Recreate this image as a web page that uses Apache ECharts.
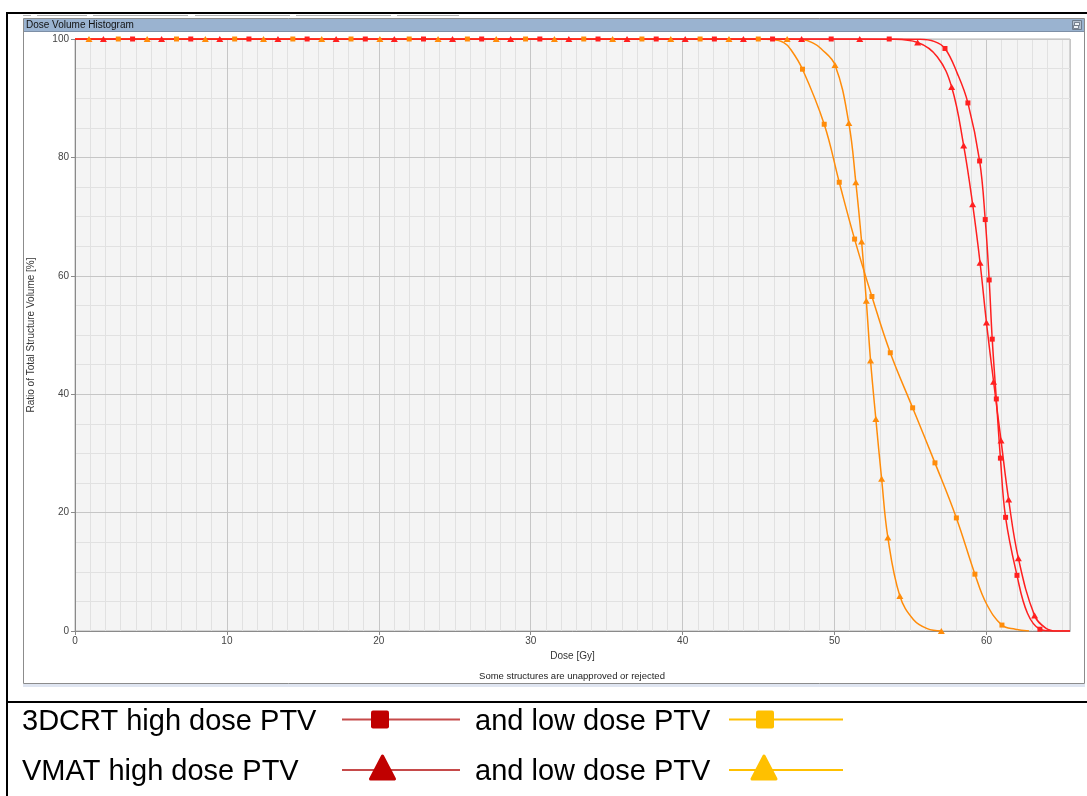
<!DOCTYPE html>
<html>
<head>
<meta charset="utf-8">
<title>Dose Volume Histogram</title>
<script src="https://cdn.jsdelivr.net/npm/echarts@6/dist/echarts.min.js"></script>
<style>
  html, body { margin: 0; padding: 0; background: #ffffff; }
  #chart { width: 1087px; height: 796px; }
</style>
</head>
<body>
<div id="chart"></div>
<script>
// ---- axis ticks ----
const doseTicks = [0, 10, 20, 30, 40, 50, 60];
const volumeTicks = [0, 20, 40, 60, 80, 100];
const doseMax = 65.5;

// ---- DVH curves: [dose Gy, volume %] ----
// *Marks: sampled points drawn with a symbol; *Bends: extra points on the curve itself.
const crt3dHighMarks = [
  [3.79, 100], [7.62, 100], [11.45, 100], [15.28, 100], [19.11, 100], [22.94, 100],
  [26.77, 100], [30.60, 100], [34.43, 100], [38.26, 100], [42.09, 100], [45.92, 100],
  [49.78, 100], [53.60, 100], [57.27, 98.4], [58.78, 89.2], [59.55, 79.4], [59.92, 69.5],
  [60.18, 59.3], [60.38, 49.3], [60.65, 39.2], [60.92, 29.2], [61.26, 19.2], [62.01, 9.4],
  [63.52, 0.3]
];
const crt3dHighBends = [[0, 100], [55.6, 99.95], [56.55, 99.6], [58.08, 94.2], [62.7, 3.0], [64.3, 0], [65.5, 0]];

const crt3dLowMarks = [
  [2.85, 100], [6.68, 100], [10.51, 100], [14.34, 100], [18.17, 100], [22.00, 100],
  [25.83, 100], [29.66, 100], [33.49, 100], [37.32, 100], [41.15, 100], [44.98, 100],
  [47.89, 94.9], [49.32, 85.6], [50.31, 75.8], [51.32, 66.2], [52.46, 56.5], [53.67, 47.0],
  [55.14, 37.7], [56.61, 28.4], [58.02, 19.1], [59.24, 9.6], [61.02, 1.0]
];
const crt3dLowBends = [[0, 100], [45.9, 99.9], [46.66, 99.4], [47.1, 98.3], [60.0, 4.6], [61.9, 0.3], [62.8, 0]];

const vmatHighMarks = [
  [1.87, 100], [5.70, 100], [9.53, 100], [13.36, 100], [17.19, 100], [21.02, 100],
  [24.85, 100], [28.68, 100], [32.51, 100], [36.34, 100], [40.17, 100], [44.00, 100],
  [47.83, 100], [51.66, 100], [55.47, 99.4], [57.71, 91.9], [58.50, 82.0], [59.09, 72.1],
  [59.58, 62.2], [60.00, 52.1], [60.47, 42.1], [60.96, 32.2], [61.46, 22.2], [62.10, 12.3],
  [63.17, 2.6]
];
const vmatHighBends = [[0, 100], [53.8, 99.95], [56.76, 97.0], [63.9, 0.5], [64.6, 0], [65.5, 0]];

const vmatLowMarks = [
  [0.92, 100], [4.75, 100], [8.58, 100], [12.41, 100], [16.24, 100], [20.07, 100],
  [23.90, 100], [27.73, 100], [31.56, 100], [35.39, 100], [39.22, 100], [43.05, 100],
  [46.88, 100], [50.03, 95.6], [50.94, 85.8], [51.40, 75.8], [51.78, 65.8], [52.09, 55.8],
  [52.37, 45.7], [52.72, 35.8], [53.10, 25.7], [53.51, 15.8], [54.30, 5.9], [57.03, 0]
];
const vmatLowBends = [[0, 100], [47.9, 99.9], [48.6, 99.3], [49.1, 98.4], [55.2, 1.9], [56.1, 0.4]];

// ---- legend entries ----
const legendRows = [
  { plan: '3DCRT high dose PTV', other: 'and low dose PTV', shape: 'square' },
  { plan: 'VMAT high dose PTV', other: 'and low dose PTV', shape: 'triangle' }
];

const RED = '#ff1f1f';
const ORANGE = '#ff8c0a';
const LEG_RED_LINE = '#c64a4a';
const LEG_RED = '#c00000';
const LEG_GOLD = '#ffc000';
const FONT = '"Liberation Sans", Arial, sans-serif';

// merge marked and unmarked points into one curve, sorted by dose
function curve(marks, bends) {
  const pts = marks.map(p => ({ value: p }))
    .concat(bends.map(p => ({ value: p, symbol: 'none' })));
  pts.sort((a, b) => a.value[0] - b.value[0] || b.value[1] - a.value[1]);
  return pts;
}

function dvhSeries(name, marks, bends, color, symbol) {
  return {
    name: name,
    type: 'line',
    xAxisIndex: 0,
    yAxisIndex: 0,
    data: curve(marks, bends),
    smooth: 0.4,
    symbol: symbol,
    symbolSize: symbol === 'triangle' ? [7, 6] : [5, 5],
    showSymbol: true,
    clip: true,
    lineStyle: { color: color, width: 1.5 },
    itemStyle: { color: color, borderWidth: 0 },
    emphasis: { disabled: true },
    animation: false
  };
}

// ---- window chrome, captions and legend drawn as graphics ----
const graphics = [];
// tab strip remnants above the panel
[[23, 31], [37, 87], [93, 188], [195, 290], [296, 391], [397, 459]].forEach(s => {
  graphics.push({ type: 'line', shape: { x1: s[0], y1: 15.5, x2: s[1], y2: 15.5 },
    style: { stroke: '#b0b0b0', lineWidth: 1 }, silent: true });
});
// outer frame
graphics.push({ type: 'rect', shape: { x: 6, y: 12, width: 1081, height: 2 }, style: { fill: '#000' }, silent: true });
graphics.push({ type: 'rect', shape: { x: 6, y: 12, width: 2, height: 784 }, style: { fill: '#000' }, silent: true });
graphics.push({ type: 'rect', shape: { x: 6, y: 701, width: 1081, height: 2 }, style: { fill: '#000' }, silent: true });
// panel
graphics.push({ type: 'rect', shape: { x: 23, y: 684, width: 1062, height: 3 }, style: { fill: '#dfe5f1' }, silent: true });
graphics.push({ type: 'rect', shape: { x: 23.5, y: 18.5, width: 1061, height: 665 },
  style: { fill: null, stroke: '#8c8c8c', lineWidth: 1 }, silent: true });
graphics.push({ type: 'rect', shape: { x: 24, y: 19, width: 1060, height: 12 }, style: { fill: '#9ab3d0' }, silent: true });
graphics.push({ type: 'line', shape: { x1: 24, y1: 31.5, x2: 1084, y2: 31.5 }, style: { stroke: '#7d8fa6', lineWidth: 1 }, silent: true });
graphics.push({ type: 'text', x: 26, y: 25.5, silent: true,
  style: { text: 'Dose Volume Histogram', fontFamily: FONT, fontSize: 10, fill: '#111', verticalAlign: 'middle' } });
// restore button in the header
graphics.push({ type: 'rect', shape: { x: 1072.5, y: 20.5, width: 9, height: 9 },
  style: { fill: '#b3c0cf', stroke: '#6f7c8c', lineWidth: 1 }, silent: true });
graphics.push({ type: 'rect', shape: { x: 1074.5, y: 22.5, width: 5, height: 3 },
  style: { fill: '#eef2f6', stroke: '#5f6b7a', lineWidth: 0.8 }, silent: true });
graphics.push({ type: 'rect', shape: { x: 1073.5, y: 25.5, width: 5, height: 3 },
  style: { fill: '#eef2f6', stroke: '#5f6b7a', lineWidth: 0.8 }, silent: true });
// footnote under the plot
graphics.push({ type: 'text', x: 572, y: 676, silent: true,
  style: { text: 'Some structures are unapproved or rejected', fontFamily: FONT, fontSize: 9.5,
    fill: '#222', align: 'center', verticalAlign: 'middle' } });

// legend
function legendIcon(x1, x2, y, lineColor, markColor, shape, cx) {
  graphics.push({ type: 'line', shape: { x1: x1, y1: y, x2: x2, y2: y },
    style: { stroke: lineColor, lineWidth: 2 }, silent: true });
  if (shape === 'square') {
    graphics.push({ type: 'rect', shape: { x: cx - 9, y: y - 9, width: 18, height: 18, r: 2 },
      style: { fill: markColor }, silent: true });
  } else {
    graphics.push({ type: 'polygon', shape: { points: [[cx, y - 14], [cx + 12, y + 9], [cx - 12, y + 9]] },
      style: { fill: markColor, stroke: markColor, lineWidth: 3, lineJoin: 'round' }, silent: true });
  }
}
legendRows.forEach((row, i) => {
  const textMid = i === 0 ? 722 : 772;
  const mid = i === 0 ? 719.5 : 770;
  graphics.push({ type: 'text', x: 22, y: textMid, silent: true,
    style: { text: row.plan, fontFamily: FONT, fontSize: 29, fill: '#000', verticalAlign: 'middle' } });
  graphics.push({ type: 'text', x: 475, y: textMid, silent: true,
    style: { text: row.other, fontFamily: FONT, fontSize: 29, fill: '#000', verticalAlign: 'middle' } });
  legendIcon(342, 460, mid, LEG_RED_LINE, LEG_RED, row.shape, i === 0 ? 380 : 382.5);
  legendIcon(729, 843, mid, LEG_GOLD, LEG_GOLD, row.shape, i === 0 ? 765 : 764);
});

const chart = echarts.init(document.getElementById('chart'), null, { renderer: 'canvas' });

const axisText = { color: '#444', fontSize: 10, fontFamily: FONT };

chart.setOption({
  animation: false,
  backgroundColor: '#ffffff',
  grid: {
    left: 75, right: 17, top: 39, bottom: 165,
    show: true, backgroundColor: '#f4f4f4', borderColor: '#b4b4b4', borderWidth: 1
  },
  xAxis: [
    {
      type: 'value', min: 0, max: doseMax, interval: 10,
      name: 'Dose [Gy]', nameLocation: 'middle', nameGap: 11,
      nameTextStyle: { color: '#333', fontSize: 10, fontFamily: FONT },
      axisLine: { show: true, lineStyle: { color: '#8a8a8a', width: 1 } },
      axisTick: { show: true, length: 4, lineStyle: { color: '#8a8a8a' } },
      axisLabel: Object.assign({ margin: 5, showMaxLabel: false,
        formatter: v => (doseTicks.indexOf(v) >= 0 ? String(v) : '') }, axisText),
      splitLine: { show: true, lineStyle: { color: '#c6c6c6', width: 1 } },
      z: 1
    },
    {
      // 1 Gy minor grid
      type: 'value', min: 0, max: doseMax, interval: 1, position: 'bottom',
      axisLine: { show: false }, axisTick: { show: false }, axisLabel: { show: false },
      splitLine: { show: true, lineStyle: { color: '#e1e1e1', width: 1 } },
      z: 0
    }
  ],
  yAxis: [
    {
      type: 'value', min: 0, max: 100, interval: 20,
      name: 'Ratio of Total Structure Volume [%]', nameLocation: 'middle', nameGap: 39,
      nameTextStyle: { color: '#333', fontSize: 10, fontFamily: FONT },
      axisLine: { show: true, lineStyle: { color: '#8a8a8a', width: 1 } },
      axisTick: { show: true, length: 4, lineStyle: { color: '#8a8a8a' } },
      axisLabel: Object.assign({ margin: 6,
        formatter: v => (volumeTicks.indexOf(v) >= 0 ? String(v) : '') }, axisText),
      splitLine: { show: true, lineStyle: { color: '#c6c6c6', width: 1 } },
      z: 1
    },
    {
      // 5 % minor grid
      type: 'value', min: 0, max: 100, interval: 5, position: 'left',
      axisLine: { show: false }, axisTick: { show: false }, axisLabel: { show: false },
      splitLine: { show: true, lineStyle: { color: '#e1e1e1', width: 1 } },
      z: 0
    }
  ],
  graphic: { elements: graphics },
  series: [
    dvhSeries('3DCRT low dose PTV', crt3dLowMarks, crt3dLowBends, ORANGE, 'rect'),
    dvhSeries('VMAT low dose PTV', vmatLowMarks, vmatLowBends, ORANGE, 'triangle'),
    dvhSeries('3DCRT high dose PTV', crt3dHighMarks, crt3dHighBends, RED, 'rect'),
    dvhSeries('VMAT high dose PTV', vmatHighMarks, vmatHighBends, RED, 'triangle')
  ]
});
</script>
</body>
</html>
